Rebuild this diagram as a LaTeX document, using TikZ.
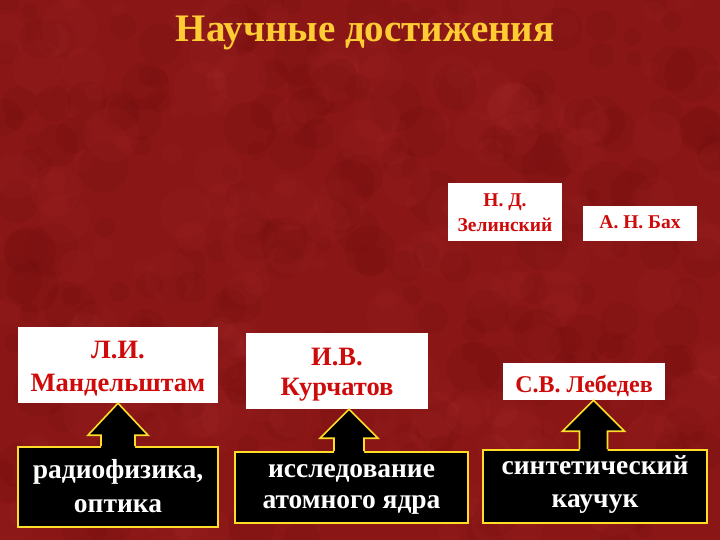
\documentclass[tikz,border=0pt]{standalone}
\usepackage{fontspec}
\setmainfont{Liberation Serif}
\usetikzlibrary{calc}
\definecolor{bgred}{RGB}{138,22,22}
\definecolor{bgdark}{RGB}{105,10,10}
\definecolor{bglight}{RGB}{170,45,45}
\definecolor{namered}{RGB}{206,10,10}
\definecolor{titleyellow}{RGB}{255,204,51}
\definecolor{edgeyellow}{RGB}{255,221,40}
% two centred lines with a fixed baseline distance; baseline = last line
\newcommand\twolines[3]{\vbox{\baselineskip=#3\lineskiplimit=-100pt\halign{\hfil##\hfil\cr#1\cr#2\cr}}}
\tikzset{
  namebox/.style={draw=none, fill=white, inner sep=0pt, text depth=0pt,
    text=namered},
  fieldbox/.style={draw=edgeyellow, line width=1.6pt, fill=black,
    inner sep=0pt, text depth=0pt, text=white, font=\bfseries\fontsize{27.5}{32}\selectfont},
  blockarrow/.style={draw=edgeyellow, line width=1.6pt, line join=miter},
  mottle/.style={opacity=0.12},
}
\begin{document}
\begin{tikzpicture}[x=1pt,y=-1pt]
\fill[bgred] (0,0) rectangle (720,540);
\useasboundingbox (0,0) rectangle (720,540);
% soft mottled background texture
\begin{scope}
\clip (0,0) rectangle (720,540);
\pgfmathsetseed{11}
\foreach \i in {1,...,420}{
  \pgfmathsetmacro\px{rnd*720}
  \pgfmathsetmacro\py{rnd*540}
  \pgfmathsetmacro\pr{6+rnd*22}
  \pgfmathsetmacro\pc{rnd}
  \ifdim\pc pt<0.5pt
    \fill[bgdark, mottle] (\px,\py) circle[radius=\pr];
  \else
    \fill[bglight, mottle] (\px,\py) circle[radius=\pr];
  \fi
}
\end{scope}

\node[anchor=base, inner sep=0pt, text=titleyellow, font=\bfseries\fontsize{39}{44}\selectfont] (title) at (365,42) {Научные достижения};

\node[namebox, minimum width=114, minimum height=57, text height=40pt, font=\bfseries\fontsize{19.5}{21}\selectfont] (zel) at (505,212) {\twolines{Н. Д.}{Зелинский}{25pt}};
\node[namebox, minimum width=114, minimum height=35, text height=11pt, font=\bfseries\fontsize{19.5}{21}\selectfont] (bah) at (640,223.5) {А. Н. Бах};

\node[namebox, minimum width=200, minimum height=76, text height=52pt, font=\bfseries\fontsize{26.5}{33}\selectfont] (man) at (118,365) {\twolines{Л.И.}{Мандельштам}{33pt}};
\node[namebox, minimum width=182, minimum height=76, text height=48pt, font=\bfseries\fontsize{26.5}{31}\selectfont] (kur) at (337,371) {\twolines{И.В.}{Курчатов}{30pt}};
\node[namebox, minimum width=162, minimum height=37, text height=21pt, font=\bfseries\fontsize{24}{26}\selectfont] (leb) at (584,381.5) {С.В. Лебедев};

\node[fieldbox, minimum width=200, minimum height=80, text height=50pt] (rad) at (118,487) {\twolines{радиофизика,}{оптика}{34pt}};
\node[fieldbox, minimum width=233, minimum height=71, text height=41pt] (iss) at (351.5,487.5) {\twolines{исследование}{атомного ядра}{31pt}};
\node[fieldbox, minimum width=224, minimum height=73, text height=42pt] (sin) at (595,486.5) {\twolines{синтетический}{каучук}{33pt}};

% block arrows from field boxes up to the names
\foreach \f/\n/\dx/\hb/\sw/\hw in {rad/man/0/32/17/30, iss/kur/-2.5/29/15/29, sin/leb/-1.5/31/14/31}{
  \coordinate (tip) at ($(\f.north |- \n.south)+(\dx,0)$);
  \coordinate (base) at ($(\f.north)+(\dx,0)$);
  \fill[black] (tip) -- ($(tip)+(\hw,\hb)$) -- ($(tip)+(\sw,\hb)$) -- ($(base)+(\sw,2)$)
     -- ($(base)+(-\sw,2)$) -- ($(tip)+(-\sw,\hb)$) -- ($(tip)+(-\hw,\hb)$) -- cycle;
  \draw[blockarrow] ($(base)+(-\sw,0)$) -- ($(tip)+(-\sw,\hb)$) -- ($(tip)+(-\hw,\hb)$) -- (tip)
     -- ($(tip)+(\hw,\hb)$) -- ($(tip)+(\sw,\hb)$) -- ($(base)+(\sw,0)$);
}
\end{tikzpicture}
\end{document}
